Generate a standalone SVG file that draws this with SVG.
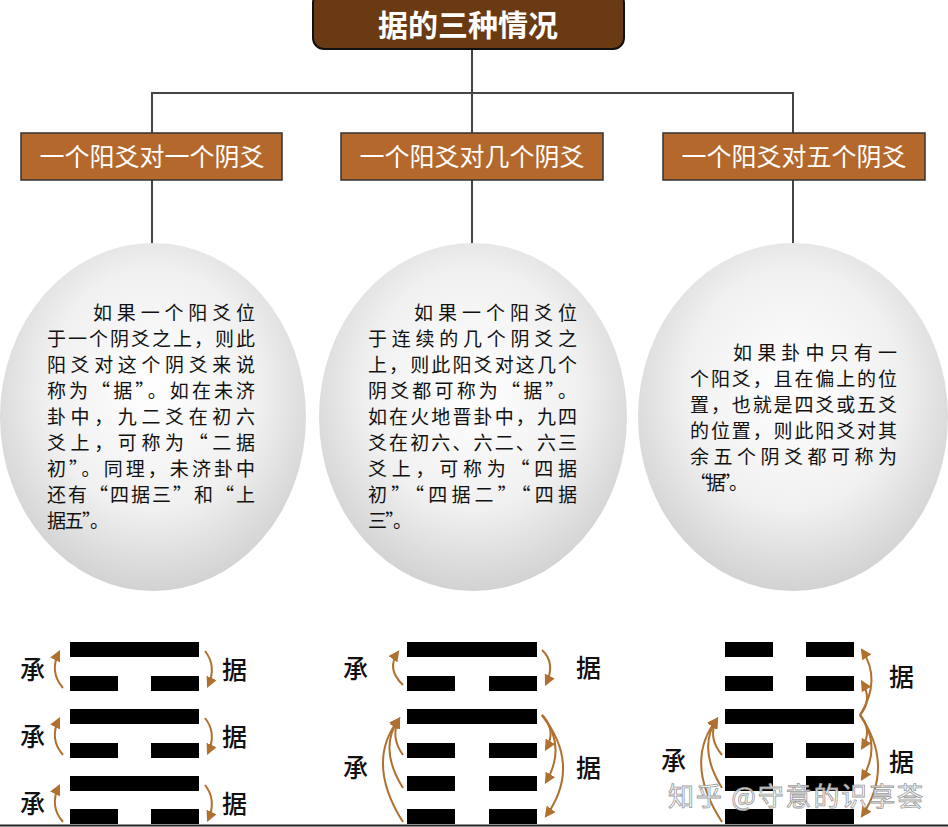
<svg xmlns="http://www.w3.org/2000/svg" width="948" height="827" viewBox="0 0 948 827">
<defs>
  <radialGradient id="egg" cx="50%" cy="42%" r="58%">
    <stop offset="0" stop-color="#ffffff"/>
    <stop offset="0.6" stop-color="#f0f0f0"/>
    <stop offset="1" stop-color="#d2d2d2"/>
  </radialGradient>
  <marker id="ah" viewBox="0 0 10 10" refX="8" refY="5" markerWidth="5.5" markerHeight="5.5" orient="auto" markerUnits="strokeWidth">
    <path d="M0,0 L10,5 L0,10 z" fill="#B0702F"/>
  </marker>
  <style>
    .conn{stroke:#444;stroke-width:2;fill:none}
    .sub{fill:#B4682B;stroke:#333;stroke-width:1.5}
    .subt{font-family:"Noto Sans CJK SC",sans-serif;font-size:25px;fill:#fff;text-anchor:middle}
    .body{font-family:"Noto Sans CJK SC",sans-serif;font-size:19px;fill:#111}
    .yao{fill:#000}
    .lbl{font-family:"Noto Sans CJK SC",sans-serif;font-size:25px;fill:#111;font-weight:500}
    .arr{stroke:#B0702F;stroke-width:2;fill:none;marker-end:url(#ah)}
  </style>
</defs>
<rect width="948" height="827" fill="#ffffff"/>

<g id="connectors">
  <path class="conn" d="M472,50 V133 M152,133 V93 H793 V133"/>
  <path class="conn" d="M152,180 V244 M472,180 V244 M793,180 V244"/>
</g>

<g id="title">
  <rect x="313" y="-8" width="311" height="57" rx="11" fill="#6A3A12" stroke="#111" stroke-width="2"/>
  <text x="468" y="36" font-family="Noto Sans CJK SC,sans-serif" font-size="30" font-weight="700" fill="#fff" text-anchor="middle">据的三种情况</text>
</g>

<g id="case1">
  <rect class="sub" x="21" y="133" width="261" height="47"/>
  <text class="subt" x="152" y="166">一个阳爻对一个阴爻</text>
</g>
<g id="case2">
  <rect class="sub" x="341" y="133" width="262" height="47"/>
  <text class="subt" x="472" y="166">一个阳爻对几个阴爻</text>
</g>
<g id="case3">
  <rect class="sub" x="663" y="133" width="262" height="47"/>
  <text class="subt" x="794" y="166">一个阳爻对五个阴爻</text>
</g>

<g id="desc1">
  <ellipse cx="153" cy="417" rx="153" ry="174" fill="url(#egg)"/>
  <g class="body">
    <text x="93" y="320" textLength="162" lengthAdjust="spacing">如果一个阳爻位</text>
    <text x="47" y="346" textLength="208" lengthAdjust="spacing">于一个阴爻之上，则此</text>
    <text x="47" y="372" textLength="208" lengthAdjust="spacing">阳爻对这个阴爻来说</text>
    <text x="47" y="398" textLength="208" lengthAdjust="spacing">称为“据”。如在未济</text>
    <text x="47" y="424" textLength="208" lengthAdjust="spacing">卦中，九二爻在初六</text>
    <text x="47" y="450" textLength="208" lengthAdjust="spacing">爻上，可称为“二据</text>
    <text x="47" y="476" textLength="208" lengthAdjust="spacing">初”。同理，未济卦中</text>
    <text x="47" y="502" textLength="208" lengthAdjust="spacing">还有“四据三”和“上</text>
    <text x="47" y="528" textLength="62" lengthAdjust="spacing">据五”。</text>
  </g>
</g>

<g id="desc2">
  <ellipse cx="473" cy="417" rx="154" ry="174" fill="url(#egg)"/>
  <g class="body">
    <text x="414" y="320" textLength="163" lengthAdjust="spacing">如果一个阳爻位</text>
    <text x="368" y="346" textLength="209" lengthAdjust="spacing">于连续的几个阴爻之</text>
    <text x="368" y="372" textLength="209" lengthAdjust="spacing">上，则此阳爻对这几个</text>
    <text x="368" y="398" textLength="209" lengthAdjust="spacing">阴爻都可称为“据”。</text>
    <text x="368" y="424" textLength="209" lengthAdjust="spacing">如在火地晋卦中，九四</text>
    <text x="368" y="450" textLength="209" lengthAdjust="spacing">爻在初六、六二、六三</text>
    <text x="368" y="476" textLength="209" lengthAdjust="spacing">爻上，可称为“四据</text>
    <text x="368" y="502" textLength="209" lengthAdjust="spacing">初”“四据二”“四据</text>
    <text x="368" y="528" textLength="44" lengthAdjust="spacing">三”。</text>
  </g>
</g>

<g id="desc3">
  <ellipse cx="793" cy="417" rx="155" ry="174" fill="url(#egg)"/>
  <g class="body">
    <text x="733" y="360" textLength="164" lengthAdjust="spacing">如果卦中只有一</text>
    <text x="690" y="386" textLength="207" lengthAdjust="spacing">个阳爻，且在偏上的位</text>
    <text x="690" y="412" textLength="207" lengthAdjust="spacing">置，也就是四爻或五爻</text>
    <text x="690" y="438" textLength="207" lengthAdjust="spacing">的位置，则此阳爻对其</text>
    <text x="690" y="464" textLength="207" lengthAdjust="spacing">余五个阴爻都可称为</text>
    <text x="690" y="490" textLength="58" lengthAdjust="spacing">“据”。</text>
  </g>
</g>

<g id="hex1">
  <rect class="yao" x="70" y="642" width="129" height="15"/>
  <rect class="yao" x="70" y="676" width="48" height="15"/><rect class="yao" x="151" y="676" width="48" height="15"/>
  <rect class="yao" x="70" y="709" width="129" height="15"/>
  <rect class="yao" x="70" y="743" width="48" height="15"/><rect class="yao" x="151" y="743" width="48" height="15"/>
  <rect class="yao" x="70" y="776" width="129" height="15"/>
  <rect class="yao" x="70" y="809" width="48" height="15"/><rect class="yao" x="151" y="809" width="48" height="15"/>
  <text class="lbl" x="20" y="679">承</text><text class="lbl" x="222" y="679">据</text>
  <text class="lbl" x="20" y="746">承</text><text class="lbl" x="222" y="746">据</text>
  <text class="lbl" x="20" y="813">承</text><text class="lbl" x="222" y="813">据</text>
</g>

<g id="hex2">
  <rect class="yao" x="407" y="642" width="130" height="15"/>
  <rect class="yao" x="407" y="676" width="48" height="15"/><rect class="yao" x="489" y="676" width="48" height="15"/>
  <rect class="yao" x="407" y="709" width="130" height="15"/>
  <rect class="yao" x="407" y="743" width="48" height="15"/><rect class="yao" x="489" y="743" width="48" height="15"/>
  <rect class="yao" x="407" y="776" width="48" height="15"/><rect class="yao" x="489" y="776" width="48" height="15"/>
  <rect class="yao" x="407" y="809" width="48" height="15"/><rect class="yao" x="489" y="809" width="48" height="15"/>
  <text class="lbl" x="343" y="678">承</text><text class="lbl" x="576" y="677">据</text>
  <text class="lbl" x="343" y="777">承</text><text class="lbl" x="576" y="777">据</text>
</g>

<g id="hex3">
  <rect class="yao" x="725" y="642" width="48" height="15"/><rect class="yao" x="806" y="642" width="48" height="15"/>
  <rect class="yao" x="725" y="676" width="48" height="15"/><rect class="yao" x="806" y="676" width="48" height="15"/>
  <rect class="yao" x="725" y="709" width="129" height="15"/>
  <rect class="yao" x="725" y="743" width="48" height="15"/><rect class="yao" x="806" y="743" width="48" height="15"/>
  <rect class="yao" x="725" y="776" width="48" height="15"/><rect class="yao" x="806" y="776" width="48" height="15"/>
  <rect class="yao" x="725" y="809" width="48" height="15"/><rect class="yao" x="806" y="809" width="48" height="15"/>
  <text class="lbl" x="889" y="686">据</text><text class="lbl" x="889" y="771">据</text>
  <text class="lbl" x="661" y="770">承</text>
</g>

<g id="arrows">
  <path class="arr" d="M63,688 Q49,672 59,652"/>
  <path class="arr" d="M205,651 Q217,666 208,686"/>
  <path class="arr" d="M63,755 Q49,739 59,719"/>
  <path class="arr" d="M205,718 Q217,733 208,753"/>
  <path class="arr" d="M63,822 Q49,806 59,786"/>
  <path class="arr" d="M205,785 Q217,800 208,820"/>

  <path class="arr" d="M403,685 Q386,669 398,652"/>
  <path class="arr" d="M542,650 Q556,663 546,684"/>
  <path class="arr" d="M403,755 Q390,737 399,719"/>
  <path class="arr" d="M403,788 Q378,748 399,719"/>
  <path class="arr" d="M403,822 Q365,762 399,719"/>
  <path class="arr" d="M542,715 Q557,730 546,749"/>
  <path class="arr" d="M542,715 Q567,746 546,782"/>
  <path class="arr" d="M542,715 Q582,766 546,816"/>

  <path class="arr" d="M860,715 Q882,680 862,650"/>
  <path class="arr" d="M860,715 Q873,700 862,682"/>
  <path class="arr" d="M860,715 Q873,730 862,748"/>
  <path class="arr" d="M860,715 Q882,746 862,779"/>
  <path class="arr" d="M860,715 Q895,766 862,816"/>
  <path class="arr" d="M722,755 Q707,737 717,719"/>
  <path class="arr" d="M722,788 Q697,748 717,719"/>
  <path class="arr" d="M722,822 Q683,762 717,719"/>
</g>

<line x1="0" y1="825.5" x2="948" y2="825.5" stroke="#222" stroke-width="2"/>

<text x="668" y="806" textLength="255" lengthAdjust="spacing" font-family="Noto Sans CJK SC,sans-serif" font-size="26" fill="#ffffff" fill-opacity="0.85" stroke="#9a9a9a" stroke-width="0.8">知乎 @守意的识享荟</text>
</svg>
